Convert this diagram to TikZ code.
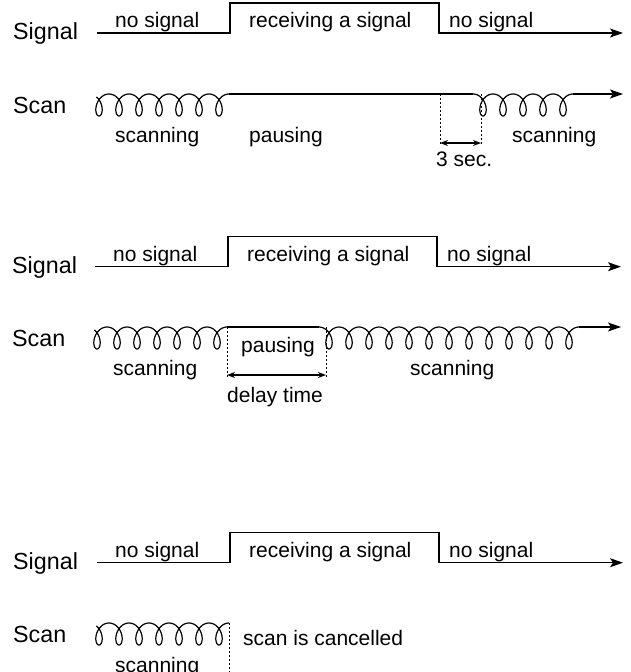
\documentclass[tikz,border=0pt]{standalone}
\usepackage{fontspec}
\setmainfont{Liberation Sans}
\usetikzlibrary{arrows.meta}

% coil of the scan line: first loop x, line y, loops, start angle
\newcommand{\scancoil}[4]{%
  \draw[trace, smooth] plot[domain=#4:{2*pi*(#3-1)+pi}, samples=400, variable=\t]
    ({#1+20*\t/(2*pi)-7.5*sin(\t r)}, {#2+11*(1+cos(\t r))});}

\begin{document}
\begin{tikzpicture}[
  x=1pt, y=-1pt,
  trace/.style={line width=1.2pt, line join=miter},
  timeline/.style={trace, -{Stealth[length=13pt,width=9pt,inset=3pt]}},
  span/.style={line width=1.2pt,
    {Stealth[length=8pt,width=6pt]}-{Stealth[length=8pt,width=6pt]}},
  guide/.style={line width=0.8pt, dash pattern=on 2pt off 2pt},
  lbl/.style={anchor=base west, inner sep=0pt, font=\fontsize{21}{25}\selectfont},
  rowlbl/.style={lbl, font=\fontsize{23.3}{28}\selectfont}
]
\useasboundingbox (0,0) rectangle (631,672);

% first case: signal received, scan pauses, resumes 3 sec. after it ends
\node[rowlbl] (sig1) at (13,39) {Signal};
\node[lbl] (nosig1a) at (115,27) {no signal};
\node[lbl] (recv1) at (249,27) {receiving a signal};
\node[lbl] (nosig1b) at (449,27) {no signal};
\coordinate (s1start) at (97,33);
\coordinate (s1up) at (230,33);
\coordinate (s1down) at (439,33);
\coordinate (s1end) at (623,33);
\draw[timeline] (s1start) -- (s1up) -- ++(0,-30) -| (s1down) -- (s1end);

\node[rowlbl] (scan1) at (13,113) {Scan};
\scancoil{99}{94}{7}{-2.4}
\coordinate (c1end) at (229,94);
\coordinate (c2start) at (473,94);
\coordinate (c2end) at (573,94);
\coordinate (scan1end) at (623,94);
\draw[trace] (c1end) -- (c2start);
\scancoil{483}{94}{5}{-pi}
\draw[timeline] (c2end) -- (scan1end);
\node[lbl] (scanning1a) at (115,142) {scanning};
\node[lbl] (pausing1) at (249,142) {pausing};
\node[lbl] (scanning1b) at (512,142) {scanning};

\coordinate (w1a) at (440,94);
\coordinate (w1b) at (481,94);
\draw[guide] (w1a) -- ++(0,51);
\draw[guide] (w1b) -- ++(0,51);
\draw[span] ([yshift=-49pt]w1a) -- ([yshift=-49pt]w1b);
\node[lbl] (wait1) at (436,166) {3 sec.};

% second case: scan pauses only for the delay time
\node[rowlbl] (sig2) at (12,273) {Signal};
\node[lbl] (nosig2a) at (113,261) {no signal};
\node[lbl] (recv2) at (247,261) {receiving a signal};
\node[lbl] (nosig2b) at (447,261) {no signal};
\coordinate (s2start) at (95,266.7);
\coordinate (s2up) at (228,266.7);
\coordinate (s2down) at (437,266.7);
\coordinate (s2end) at (621,266.7);
\draw[timeline] (s2start) -- (s2up) -- ++(0,-30) -| (s2down) -- (s2end);

\node[rowlbl] (scan2) at (12,346) {Scan};
\scancoil{97}{327}{7}{-2.4}
\coordinate (c3end) at (227,327);
\coordinate (c4start) at (319,327);
\coordinate (c4end) at (579,327);
\coordinate (scan2end) at (621,327);
\draw[trace] (c3end) -- (c4start);
\scancoil{329}{327}{13}{-pi}
\draw[timeline] (c4end) -- (scan2end);
\node[lbl] (pausing2) at (241,352) {pausing};
\node[lbl] (scanning2a) at (113,375) {scanning};
\node[lbl] (scanning2b) at (410,375) {scanning};

\coordinate (d2a) at (227,327);
\coordinate (d2b) at (326,327);
\draw[guide] (d2a) -- ++(0,50);
\draw[guide] (d2b) -- ++(0,50);
\draw[span] ([yshift=-48pt]d2a) -- ([yshift=-48pt]d2b);
\node[lbl] (delay2) at (227,402) {delay time};

% third case: scan is cancelled
\node[rowlbl] (sig3) at (13,569) {Signal};
\node[lbl] (nosig3a) at (115,557) {no signal};
\node[lbl] (recv3) at (249,557) {receiving a signal};
\node[lbl] (nosig3b) at (449,557) {no signal};
\coordinate (s3start) at (97,562.7);
\coordinate (s3up) at (230,562.7);
\coordinate (s3down) at (439,562.7);
\coordinate (s3end) at (623,562.7);
\draw[timeline] (s3start) -- (s3up) -- ++(0,-30) -| (s3down) -- (s3end);

\node[rowlbl] (scan3) at (13,642) {Scan};
\scancoil{99}{623}{7}{-2.4}
\coordinate (cut3) at (229,623);
\draw[guide] (cut3) -- ++(0,55);
\node[lbl] (scanning3) at (115,672) {scanning};
\node[lbl] (cancel3) at (243,645) {scan is cancelled};
\end{tikzpicture}
\end{document}
